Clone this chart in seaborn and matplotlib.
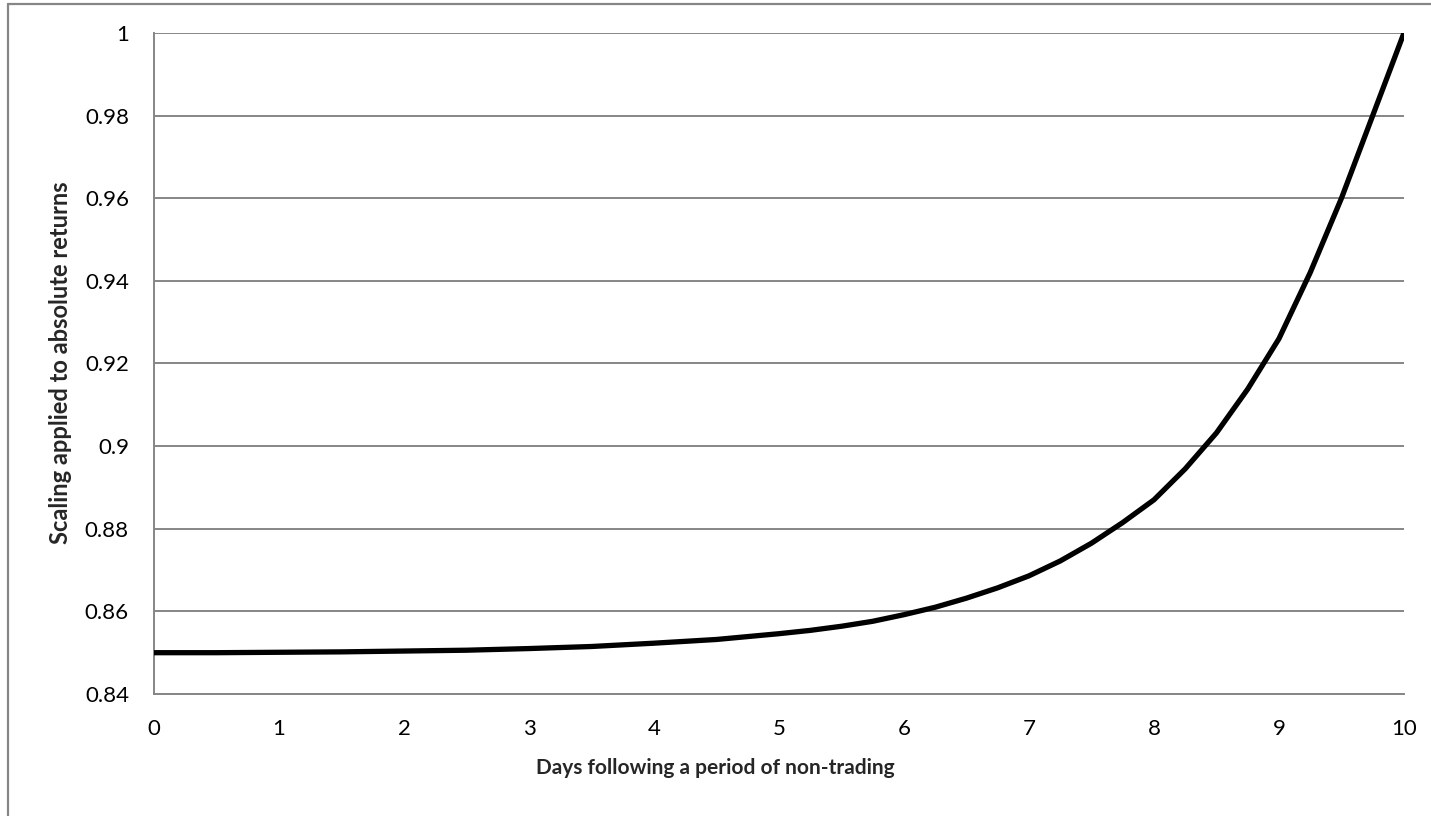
"""
Scaling applied to absolute returns after a period of non-trading (Excel-style line chart).
"""

import matplotlib
matplotlib.use("Agg")
import matplotlib.pyplot as plt
from matplotlib.lines import Line2D
import pandas as pd
import seaborn as sns

# ----------------------------
# Data
# ----------------------------
DAYS = [0, 0.5, 1, 1.5, 2, 2.5, 3, 3.5, 4, 4.5, 5, 5.25, 5.5, 5.75, 6,
        6.25, 6.5, 6.75, 7, 7.25, 7.5, 7.75, 8, 8.25, 8.5, 8.75, 9, 9.25,
        9.5, 9.75, 10]
SCALING = [0.8500, 0.8500, 0.8501, 0.8502, 0.8504, 0.8506, 0.8510, 0.8515,
           0.8523, 0.8532, 0.8546, 0.8554, 0.8564, 0.8576, 0.8592, 0.8610,
           0.8632, 0.8657, 0.8686, 0.8722, 0.8765, 0.8815, 0.8870, 0.8945,
           0.9032, 0.9138, 0.9260, 0.9420, 0.9600, 0.9800, 1.0000]

Y_TICKS = [0.84, 0.86, 0.88, 0.90, 0.92, 0.94, 0.96, 0.98, 1.00]
Y_TICK_LABELS = ["0.84", "0.86", "0.88", "0.9", "0.92", "0.94", "0.96", "0.98", "1"]
X_TICKS = list(range(0, 11))

GRID = "#868686"

# ----------------------------
# Style
# ----------------------------
sns.set_theme(style="white")
plt.rcParams["font.family"] = ["Lato", "DejaVu Sans"]

df = pd.DataFrame({"days": DAYS, "scaling": SCALING})

fig = plt.figure(figsize=(14.31, 8.16), dpi=100)
ax = fig.add_axes([0.1076, 0.1495, 0.8735, 0.8101])

sns.lineplot(data=df, x="days", y="scaling", ax=ax, color="black",
             linewidth=3.8, solid_capstyle="butt", solid_joinstyle="round",
             zorder=3)

ax.set_xlim(0, 10)
ax.set_ylim(0.84, 1.0)
ax.set_xticks(X_TICKS)
ax.set_xticklabels([str(v) for v in X_TICKS], fontsize=16)
ax.set_yticks(Y_TICKS)
ax.set_yticklabels(Y_TICK_LABELS, fontsize=16)

ax.grid(axis="y", color=GRID, linewidth=1.4)
ax.grid(axis="x", visible=False)
ax.set_axisbelow(True)

for side in ["top", "right"]:
    ax.spines[side].set_visible(False)
for side in ["left", "bottom"]:
    ax.spines[side].set_color(GRID)
    ax.spines[side].set_linewidth(1.4)

ax.tick_params(axis="both", which="major", direction="out", length=6,
               width=1.4, color=GRID, labelcolor="black")
ax.tick_params(axis="x", pad=12)
ax.tick_params(axis="y", pad=12)

ax.set_xlabel("Days following a period of non-trading", fontsize=15,
              fontweight="bold")
ax.set_ylabel("Scaling applied to absolute returns", fontsize=17,
              fontweight="bold")
ax.xaxis.set_label_coords(0.50, 0.071, transform=fig.transFigure)
ax.yaxis.set_label_coords(0.0503, 0.555, transform=fig.transFigure)

# chart-area border (only left and top edges are visible in the crop)
fig.add_artist(Line2D([8 / 1431, 8 / 1431], [0, 1 - 4 / 816],
                      transform=fig.transFigure, color=GRID, linewidth=1.6))
fig.add_artist(Line2D([8 / 1431, 1], [1 - 4 / 816, 1 - 4 / 816],
                      transform=fig.transFigure, color=GRID, linewidth=1.6))

fig.savefig("out.png", dpi=100)
plt.close(fig)
